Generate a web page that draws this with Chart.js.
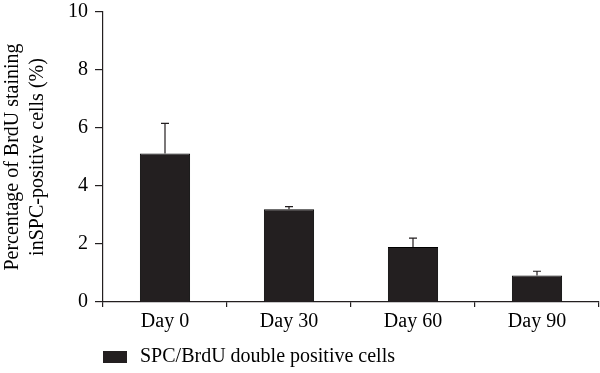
<!DOCTYPE html>
<html><head><meta charset="utf-8">
<script src="https://cdn.jsdelivr.net/npm/chart.js@4/dist/chart.umd.min.js"></script>
<style>html,body{margin:0;padding:0;background:#fff}#wrap{width:600px;height:373px}</style>
</head><body><div id="wrap"><canvas id="c" width="600" height="373"></canvas></div>
<script>
const categories = ['Day 0', 'Day 30', 'Day 60', 'Day 90'];
const values = [5.12, 3.2, 1.9, 0.91];
const errors = [1.04, 0.09, 0.3, 0.15];
const yTicks = [0, 2, 4, 6, 8, 10];
const seriesLabel = 'SPC/BrdU double positive cells';
const yTitle = ['Percentage of BrdU staining', 'inSPC-positive cells (%)'];

const FONT = "'Liberation Serif', 'Times New Roman', serif";
const INK = '#231f20';

const errorBars = {
  id: 'errorBars',
  afterDatasetsDraw(chart) {
    const ctx = chart.ctx, y = chart.scales.y;
    const meta = chart.getDatasetMeta(0);
    ctx.save();
    ctx.strokeStyle = INK; ctx.lineWidth = 1.2;
    meta.data.forEach((bar, i) => {
      const top = y.getPixelForValue(values[i] + errors[i]);
      const base = y.getPixelForValue(values[i]);
      ctx.beginPath();
      ctx.moveTo(bar.x, base); ctx.lineTo(bar.x, top);
      ctx.moveTo(bar.x - 4, top); ctx.lineTo(bar.x + 4, top);
      ctx.stroke();
    });
    ctx.restore();
  }
};

// simple legend drawn below the x axis, aligned with the y axis
const bottomLegend = {
  id: 'bottomLegend',
  afterDraw(chart) {
    const ctx = chart.ctx, ds = chart.data.datasets[0];
    const x0 = chart.chartArea.left, yc = chart.height - 16;
    ctx.save();
    ctx.fillStyle = ds.backgroundColor;
    ctx.fillRect(x0, yc - 6, 24, 12);
    ctx.fillStyle = '#000';
    ctx.font = "20px " + FONT;
    ctx.textBaseline = 'middle';
    ctx.textAlign = 'left';
    ctx.fillText(ds.label, x0 + 37, yc);
    ctx.restore();
  }
};

new Chart(document.getElementById('c'), {
  type: 'bar',
  data: {
    labels: categories,
    datasets: [{
      label: seriesLabel,
      data: values,
      backgroundColor: INK,
      borderColor: '#000',
      borderWidth: 1,
      categoryPercentage: 0.81,
      barPercentage: 0.5
    }]
  },
  options: {
    responsive: false,
    animation: false,
    layout: { padding: { top: 12, right: 1, bottom: 32, left: 0 } },
    plugins: {
      legend: { display: false },
      tooltip: { enabled: false }
    },
    scales: {
      x: {
        afterFit(s) { s.height = 39; s.paddingLeft = 0; s.paddingRight = 0; },
        grid: { offset: true, drawOnChartArea: false, drawTicks: true, tickLength: 5, color: INK, lineWidth: 1.2 },
        border: { display: true, color: INK, width: 1.2 },
        ticks: { color: '#000', font: { family: FONT, size: 20 }, padding: 3 }
      },
      y: {
        min: 0, max: 10,
        afterFit(s) { s.width = 103; s.paddingTop = 0; s.paddingBottom = 0; },
        afterBuildTicks(s) { s.ticks = yTicks.map(v => ({ value: v })); },
        grid: { drawOnChartArea: false, drawTicks: true, tickLength: 8, color: INK, lineWidth: 1.2 },
        border: { display: true, color: INK, width: 1.2 },
        ticks: { color: '#000', font: { family: FONT, size: 20 }, padding: 7 },
        title: { display: true, text: yTitle, color: '#000', font: { family: FONT, size: 20, lineHeight: 1.25 }, padding: 0 }
      }
    }
  },
  plugins: [errorBars, bottomLegend]
});
</script></body></html>
